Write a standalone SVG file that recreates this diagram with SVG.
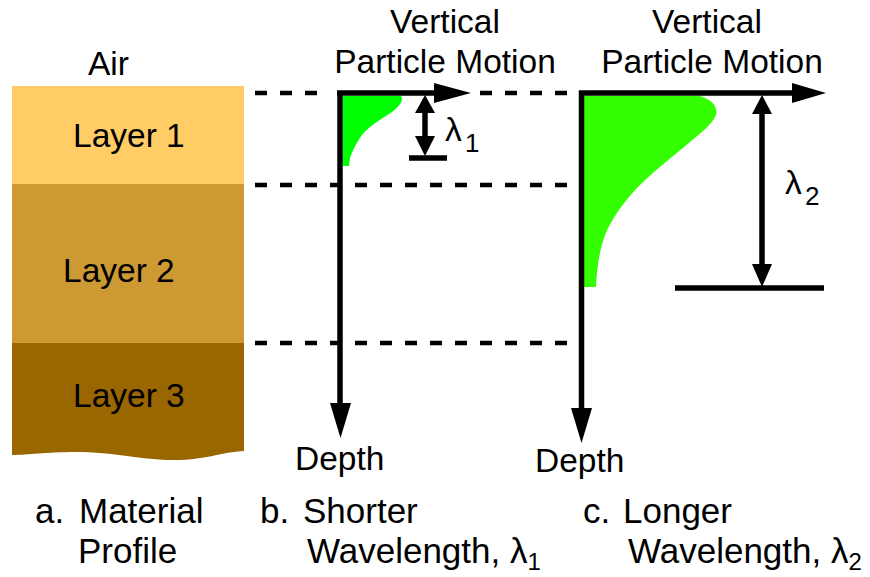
<svg xmlns="http://www.w3.org/2000/svg" width="870" height="577" viewBox="0 0 870 577">
<style>
text{font-family:"Liberation Sans",Arial,sans-serif;font-size:33.5px;fill:#000}
.bot{font-size:35px}
.sub{font-size:26px}
.bsub{font-size:24px}
.ax{stroke:#000;stroke-width:5.5;fill:none}
.dash{stroke:#000;stroke-width:4.5;stroke-dasharray:12 13;fill:none}
.hd{fill:#000}
</style>
<rect width="870" height="577" fill="#fff"/>
<g id="profile">
<rect x="12" y="86" width="232" height="99" fill="#FFCC66"/>
<rect x="12" y="184" width="232" height="160" fill="#CC9933"/>
<path d="M12,343 L244,343 L244,451 C222,452 205,460 175,460 C140,460 115,452 75,452 C45,452 28,455 12,455 Z" fill="#996600"/>
<text x="88" y="75">Air</text>
<text x="73" y="147">Layer 1</text>
<text x="63" y="282">Layer 2</text>
<text x="73" y="407">Layer 3</text>
</g>
<g id="connectors">
<path class="dash" d="M255,93 H327 M480,93 H572 M255,185 H577 M255,343 H577"/>
</g>
<g id="panel-b">
<path d="M343,96 L401,96 C404,100 400,106 392,112 C380,120 368,127 362,135 C356,143 352,152 350,158 L349,166 L343,166 Z" fill="#00FF00"/>
<path class="ax" d="M340,90.5 V410 M337,93 H440"/>
<path class="hd" d="M434,83 L471,93 L434,103 Z M330,403 L351,403 L340.5,438 Z"/>
<path class="ax" d="M425,105 V146 M409,158 H447"/>
<path class="hd" d="M425,95 L435,113 L415,113 Z M425,156 L435,136 L415,136 Z"/>
<text x="445" y="141">λ</text><text class="sub" x="465" y="152">1</text>
<text x="445" y="33" text-anchor="middle">Vertical</text>
<text x="445" y="73" text-anchor="middle">Particle Motion</text>
<text x="295" y="470">Depth</text>
</g>
<g id="panel-c">
<path d="M584,96 L700,96 C712,100 718,106 716,115 C712,125 700,133 690,142 C675,155 655,170 640,185 C625,200 612,218 605,235 C599,252 597,268 596,287 L584,287 Z" fill="#33FF00"/>
<path class="ax" d="M581.5,90.5 V415 M579,93 H795"/>
<path class="hd" d="M792,83 L826,93 L792,103 Z M571,408 L592,408 L581.5,443 Z"/>
<path class="ax" d="M762,105 V276 M675,288 H824"/>
<path class="hd" d="M762,95 L772,114 L752,114 Z M762,287 L772,264 L752,264 Z"/>
<text x="785" y="194">λ</text><text class="sub" x="805" y="205">2</text>
<text x="707" y="33" text-anchor="middle">Vertical</text>
<text x="712" y="73" text-anchor="middle">Particle Motion</text>
<text x="535" y="472">Depth</text>
</g>
<g id="captions">
<text class="bot" x="35" y="523">a.</text><text class="bot" x="79" y="523">Material</text>
<text class="bot" x="78" y="563">Profile</text>
<text class="bot" x="260" y="523">b.</text><text class="bot" x="303" y="523">Shorter</text>
<text class="bot" x="307" y="563">Wavelength, λ<tspan class="bsub" dy="7">1</tspan></text>
<text class="bot" x="583" y="523">c.</text><text class="bot" x="623" y="523">Longer</text>
<text class="bot" x="628" y="563">Wavelength, λ<tspan class="bsub" dy="7">2</tspan></text>
</g>
</svg>
